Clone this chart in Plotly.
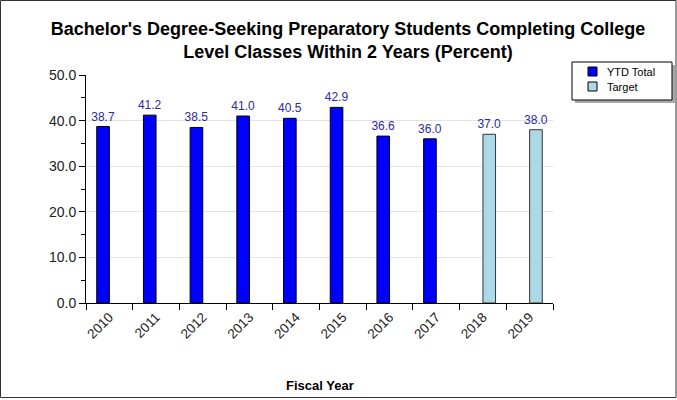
import plotly.graph_objects as go

years = ["2010", "2011", "2012", "2013", "2014", "2015", "2016", "2017", "2018", "2019"]
ytd_total = [38.7, 41.2, 38.5, 41.0, 40.5, 42.9, 36.6, 36.0, None, None]
target = [None, None, None, None, None, None, None, None, 37.0, 38.0]

series_names = ["YTD Total", "Target"]
series_colors = ["#0000ff", "#add8e6"]

W, H = 677, 400
L, R, T, B = 86, 124, 75, 97
pw, ph = W - L - R, H - T - B


def px_x(x):
    return (x - L) / pw


def px_y(y):
    return (H - B - y) / ph


def labels(vals):
    return [f"{v:.1f}" if v is not None else "" for v in vals]


label_font = dict(color="#2b2b9c", size=12, family="Arial")

fig = go.Figure()
fig.add_trace(go.Bar(
    x=years, y=ytd_total, name=series_names[0],
    marker=dict(color=series_colors[0], line=dict(color="black", width=1)),
    text=labels(ytd_total), textposition="outside", cliponaxis=False,
    constraintext="none", textfont=label_font,
))
fig.add_trace(go.Bar(
    x=years, y=target, name=series_names[1],
    marker=dict(color=series_colors[1], line=dict(color="#333333", width=1)),
    text=labels(target), textposition="outside", cliponaxis=False,
    constraintext="none", textfont=label_font,
))

# legend panel: shadow, frame, swatches and labels
shapes = [
    dict(type="rect", xref="paper", yref="paper",
         x0=px_x(575), x1=px_x(675), y0=px_y(65), y1=px_y(103),
         fillcolor="#a8a8a8", line=dict(width=0), layer="below"),
    dict(type="rect", xref="paper", yref="paper",
         x0=px_x(572), x1=px_x(672), y0=px_y(62), y1=px_y(100),
         fillcolor="white", line=dict(color="black", width=1), layer="below"),
]
annotations = []
for i, (name, col) in enumerate(zip(series_names, series_colors)):
    top = 67 + 15 * i
    shapes.append(dict(type="rect", xref="paper", yref="paper",
                       x0=px_x(588), x1=px_x(597), y0=px_y(top), y1=px_y(top + 9),
                       fillcolor=col, line=dict(color="black", width=1)))
    annotations.append(dict(text=name, x=px_x(605), y=px_y(top + 4.5),
                            xref="paper", yref="paper", xanchor="left", yanchor="middle",
                            showarrow=False,
                            font=dict(size=11, family="Arial", color="black")))

# outer frame of the figure
shapes.append(dict(type="rect", xref="paper", yref="paper",
                   x0=px_x(0.5), x1=px_x(676), y0=px_y(0.5), y1=px_y(397.5),
                   line=dict(color="#333333", width=1), fillcolor="rgba(0,0,0,0)"))

annotations.append(dict(
    text="<b>Fiscal Year</b>", x=0.5, y=px_y(385), xref="paper", yref="paper",
    xanchor="center", yanchor="middle", showarrow=False,
    font=dict(size=13, family="Arial", color="black"),
))

fig.update_layout(
    width=W, height=H,
    margin=dict(l=L, r=R, t=T, b=B),
    paper_bgcolor="white", plot_bgcolor="white",
    barmode="group", bargap=0.46, bargroupgap=0.0,
    font=dict(family="Arial", color="#222222"),
    title=dict(
        text="<b>Bachelor's Degree-Seeking Preparatory Students Completing College<br>Level Classes Within 2 Years (Percent)</b>",
        x=348 / W, xref="container", xanchor="center",
        y=1 - 35 / H, yref="container", yanchor="top",
        font=dict(size=18, family="Arial", color="black"),
    ),
    showlegend=False,
    xaxis=dict(
        type="category", tickangle=-45,
        tickfont=dict(size=13.5, family="Arial", color="#222222"),
        showline=True, linecolor="black", linewidth=1,
        ticks="outside", ticklen=6, tickcolor="black", tickson="boundaries",
        showgrid=False,
    ),
    yaxis=dict(
        range=[0, 50], dtick=10, tickformat=".1f",
        tickfont=dict(size=14, family="Arial", color="#222222"),
        showline=True, linecolor="black", linewidth=1,
        ticks="outside", ticklen=6, tickcolor="black",
        showgrid=True, gridcolor="#e3e3e3", gridwidth=1,
        minor=dict(dtick=5, ticks="outside", ticklen=4, tickcolor="black", showgrid=False),
        zeroline=False,
    ),
    annotations=annotations,
    shapes=shapes,
)

fig.write_html("out.html")
